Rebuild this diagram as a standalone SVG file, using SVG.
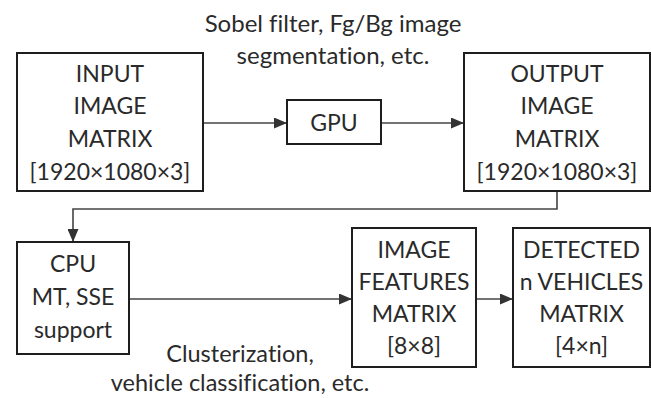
<svg xmlns="http://www.w3.org/2000/svg" width="651" height="398" viewBox="0 0 651 398">
<style>
.box{fill:#fff;stroke:#1e1e1e;stroke-width:2}
.t{font-family:Lato,"Open Sans","DejaVu Sans",sans-serif;font-size:23px;fill:#2a2a2a;text-anchor:middle;font-variant-ligatures:none}
.l{font-size:24px}
.b{font-size:23.5px}
.c{fill:none;stroke:#444;stroke-width:1.6}
</style>
<defs>
<marker id="ah" markerUnits="userSpaceOnUse" markerWidth="13" markerHeight="11" refX="13" refY="5.5" orient="auto">
<path d="M0,0 L13,5.5 L0,11 z" fill="#333"/>
</marker>
</defs>
<rect width="651" height="398" fill="#fff"/>
<g id="labels">
<text class="t l" x="333" y="32">Sobel filter, Fg/Bg image</text>
<text class="t l" x="333" y="64">segmentation, etc.</text>
<text class="t b" x="240" y="362">Clusterization,</text>
<text class="t b" x="240" y="391">vehicle classification, etc.</text>
</g>
<g id="connectors">
<path class="c" d="M203,123 H287" marker-end="url(#ah)"/>
<path class="c" d="M381,123 H464" marker-end="url(#ah)"/>
<path class="c" d="M557,191 V209 H73 V242" marker-end="url(#ah)"/>
<path class="c" d="M129,299 H352" marker-end="url(#ah)"/>
<path class="c" d="M476,299 H513" marker-end="url(#ah)"/>
</g>
<g id="input">
<rect class="box" x="17" y="53" width="186" height="138"/>
<text class="t" x="110" y="82">INPUT</text>
<text class="t" x="110" y="114">IMAGE</text>
<text class="t" x="110" y="147">MATRIX</text>
<text class="t" x="110" y="180">[1920×1080×3]</text>
</g>
<g id="gpu">
<rect class="box" x="287" y="100" width="94" height="44"/>
<text class="t" x="334" y="131">GPU</text>
</g>
<g id="output">
<rect class="box" x="464" y="53" width="186" height="138"/>
<text class="t" x="557" y="82">OUTPUT</text>
<text class="t" x="557" y="114">IMAGE</text>
<text class="t" x="557" y="147">MATRIX</text>
<text class="t" x="557" y="180">[1920×1080×3]</text>
</g>
<g id="cpu">
<rect class="box" x="17" y="242" width="112" height="112"/>
<text class="t" x="73" y="272">CPU</text>
<text class="t" x="73" y="305">MT, SSE</text>
<text class="t" x="73" y="338">support</text>
</g>
<g id="features">
<rect class="box" x="352" y="228" width="124" height="139"/>
<text class="t" x="414" y="258">IMAGE</text>
<text class="t" x="414" y="290">FEATURES</text>
<text class="t" x="414" y="322">MATRIX</text>
<text class="t" x="414" y="354">[8×8]</text>
</g>
<g id="detected">
<rect class="box" x="513" y="228" width="137" height="139"/>
<text class="t" x="581.5" y="258">DETECTED</text>
<text class="t" x="581.5" y="290">n VEHICLES</text>
<text class="t" x="581.5" y="322">MATRIX</text>
<text class="t" x="581.5" y="354">[4×n]</text>
</g>
</svg>
